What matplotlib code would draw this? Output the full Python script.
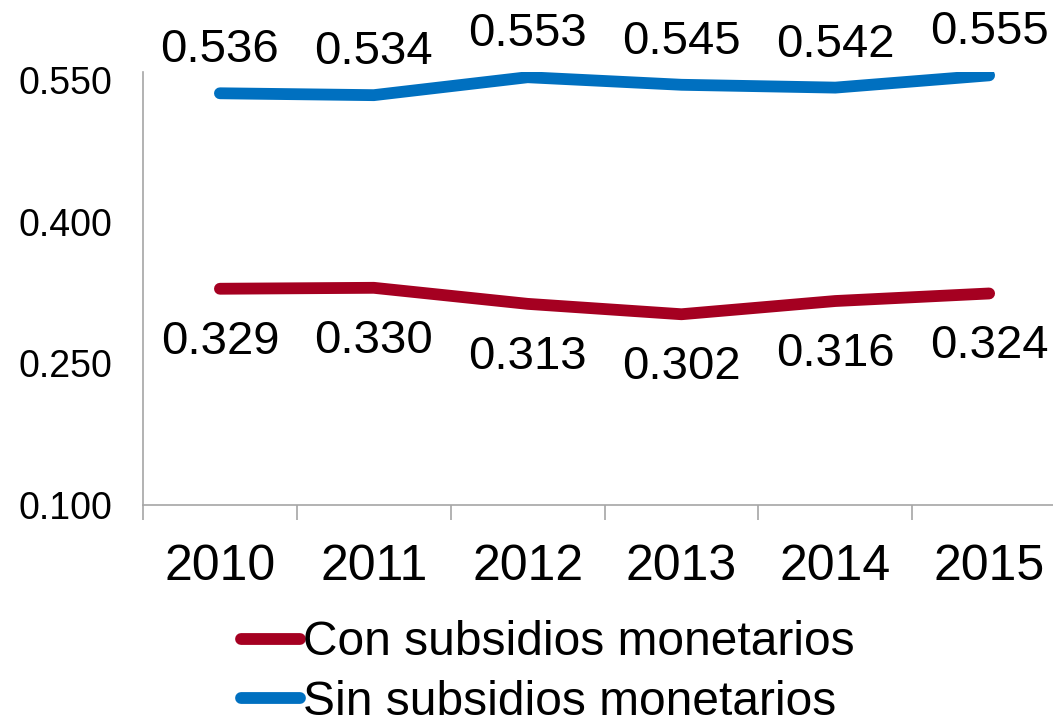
import numpy as np
import matplotlib.pyplot as plt

years = ['2010', '2011', '2012', '2013', '2014', '2015']
con_subsidios = [0.329, 0.330, 0.313, 0.302, 0.316, 0.324]
sin_subsidios = [0.536, 0.534, 0.553, 0.545, 0.542, 0.555]
y_ticks = [0.100, 0.250, 0.400, 0.550]

red = '#A50021'
blue = '#0070C0'
grey = '#A6A6A6'

plt.rcParams['font.family'] = ['Liberation Sans', 'DejaVu Sans']

fig = plt.figure(figsize=(10.53, 7.16), dpi=100)
ax = fig.add_axes([0.1358, 0.2947, 0.8766, 0.6047])

x = np.arange(len(years))
ax.plot(x, con_subsidios, color=red, lw=8.5, solid_capstyle='round',
        label='Con subsidios monetarios')
ax.plot(x, sin_subsidios, color=blue, lw=8.5, solid_capstyle='round',
        label='Sin subsidios monetarios')

for i in range(len(years)):
    ax.annotate('%.3f' % con_subsidios[i], (x[i], con_subsidios[i]),
                xytext=(0, -38), textcoords='offset points',
                ha='center', va='center', fontsize=34)
    ax.annotate('%.3f' % sin_subsidios[i], (x[i], sin_subsidios[i]),
                xytext=(0, 31), textcoords='offset points',
                ha='center', va='center', fontsize=34, annotation_clip=False)

ax.set_xlim(-0.5, len(years) - 0.5)
ax.set_ylim(0.100, 0.5585)
ax.set_yticks(y_ticks)
ax.set_yticklabels(['%.3f' % v for v in y_ticks], fontsize=27)
ax.tick_params(axis='y', length=0, pad=22)

# ticks between categories
ax.set_xticks(np.arange(-0.5, len(years), 1.0))
ax.set_xticklabels([])
ax.set_xticks(x, minor=True)
ax.set_xticklabels(years, minor=True, fontsize=36)
ax.tick_params(axis='x', which='major', length=11, width=1.2, color=grey)
ax.tick_params(axis='x', which='minor', length=0, pad=28)

for s in ['top', 'right']:
    ax.spines[s].set_visible(False)
for s in ['left', 'bottom']:
    ax.spines[s].set_color(grey)
    ax.spines[s].set_linewidth(1.2)

leg = fig.legend(loc='upper center', bbox_to_anchor=(0.52, 0.167),
                 fontsize=34.5, frameon=False, handlelength=1.25,
                 handletextpad=0.05, labelspacing=0.3, borderpad=0,
                 ncol=1)
for h in leg.get_lines():
    h.set_linewidth(8.5)
    h.set_solid_capstyle('round')

fig.savefig('out.png', dpi=100)
